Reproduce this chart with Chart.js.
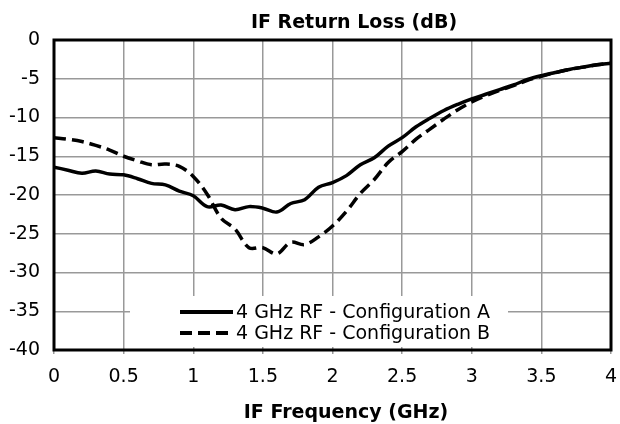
<!DOCTYPE html>
<html>
<head>
<meta charset="utf-8">
<script src="https://cdn.jsdelivr.net/npm/chart.js@4"></script>
<style>
  html, body { margin: 0; padding: 0; background: #fff; }
  #wrap { width: 620px; height: 424px; }
</style>
</head>
<body>
<div id="wrap"><canvas id="rlChart" width="620" height="424"></canvas></div>
<script>
// IF frequency grid (GHz) and return loss (dB)
const freqGHz = [0, 0.1, 0.2, 0.3, 0.4, 0.5, 0.6, 0.7, 0.8, 0.9,
                 1.0, 1.1, 1.2, 1.3, 1.4, 1.5, 1.6, 1.7, 1.8, 1.9,
                 2.0, 2.1, 2.2, 2.3, 2.4, 2.5, 2.6, 2.7, 2.8, 2.9,
                 3.0, 3.1, 3.2, 3.3, 3.4, 3.5, 3.6, 3.7, 3.8, 3.9, 4.0];

const configA = [-16.4, -16.8, -17.2, -16.9, -17.3, -17.4, -17.9, -18.5, -18.7, -19.5,
                 -20.1, -21.5, -21.3, -21.9, -21.5, -21.7, -22.2, -21.1, -20.6, -19.0,
                 -18.4, -17.5, -16.1, -15.2, -13.7, -12.6, -11.2, -10.1, -9.1, -8.3,
                 -7.6, -7.0, -6.4, -5.8, -5.1, -4.6, -4.2, -3.8, -3.5, -3.2, -3.0];

const configB = [-12.6, -12.8, -13.1, -13.6, -14.2, -15.0, -15.6, -16.1, -16.0, -16.3,
                 -17.6, -19.9, -23.0, -24.4, -26.8, -26.8, -27.6, -26.1, -26.4, -25.4,
                 -24.0, -22.1, -19.8, -18.0, -15.8, -14.4, -12.8, -11.5, -10.2, -9.0,
                 -8.0, -7.2, -6.5, -5.9, -5.2, -4.7, -4.2, -3.8, -3.5, -3.2, -3.0];

const seriesLabels = ['4 GHz RF - Configuration A', '4 GHz RF - Configuration B'];
const chartTitle = 'IF Return Loss (dB)';
const xTitle = 'IF Frequency (GHz)';

const FONT = 'DejaVu Sans';

function toPoints(values) {
    return freqGHz.map((f, i) => ({ x: f, y: values[i] }));
}

// Excel-like frame, titles and in-plot legend
const decorations = {
    id: 'decorations',
    afterDatasetsDraw(chart) {
        const ctx = chart.ctx;
        const ds = chart.data.datasets;
        ctx.save();
        ctx.fillStyle = '#fff';
        ctx.fillRect(130, 296, 378, 51);
        ctx.font = '19px "' + FONT + '"';
        ctx.textBaseline = 'middle';
        ctx.fillStyle = '#000';
        [312, 333].forEach((y, i) => {
            ctx.beginPath();
            ctx.lineWidth = 4;
            ctx.strokeStyle = '#000';
            ctx.setLineDash(ds[i].borderDash || []);
            ctx.moveTo(180, y);
            ctx.lineTo(233, y);
            ctx.stroke();
            ctx.fillText(ds[i].label, 236, y + 1);
        });
        ctx.restore();
    },
    afterDraw(chart) {
        const ctx = chart.ctx;
        const a = chart.chartArea;
        ctx.save();
        ctx.lineWidth = 3;
        ctx.strokeStyle = '#000';
        ctx.strokeRect(a.left, a.top, a.right - a.left, a.bottom - a.top);
        ctx.fillStyle = '#000';
        ctx.textAlign = 'center';
        ctx.textBaseline = 'alphabetic';
        ctx.font = 'bold 19px "' + FONT + '"';
        ctx.fillText(chartTitle, 354, 28);
        ctx.fillText(xTitle, 346, 418);
        ctx.restore();
    }
};

const ctx = document.getElementById('rlChart').getContext('2d');
new Chart(ctx, {
    type: 'line',
    data: {
        datasets: [
            {
                label: seriesLabels[0],
                data: toPoints(configA),
                borderColor: '#000',
                borderWidth: 3.5,
                pointRadius: 0,
                tension: 0.35,
                fill: false
            },
            {
                label: seriesLabels[1],
                data: toPoints(configB),
                borderColor: '#000',
                borderWidth: 3.5,
                borderDash: [12, 6],
                pointRadius: 0,
                tension: 0.35,
                fill: false
            }
        ]
    },
    options: {
        responsive: false,
        animation: false,
        layout: { padding: { top: 40, right: 9, left: 0, bottom: 0 } },
        plugins: {
            legend: { display: false },
            title: { display: false },
            tooltip: { enabled: false }
        },
        scales: {
            x: {
                type: 'linear',
                min: 0,
                max: 4,
                border: { display: false },
                grid: { color: '#999', lineWidth: 1.5, tickLength: 4 },
                ticks: {
                    stepSize: 0.5,
                    padding: 12,
                    color: '#000',
                    maxRotation: 0,
                    font: { family: FONT, size: 19 },
                    callback: v => String(v)
                },
                afterFit: s => { s.height = 74; s.paddingRight = 0; s.paddingLeft = 0; }
            },
            y: {
                min: -40,
                max: 0,
                border: { display: false },
                grid: { color: '#999', lineWidth: 1.5, drawTicks: false },
                ticks: {
                    stepSize: 5,
                    padding: 14,
                    color: '#000',
                    font: { family: FONT, size: 19 },
                    callback: v => String(v)
                },
                afterFit: s => { s.width = 54; s.paddingTop = 0; s.paddingBottom = 0; }
            }
        }
    },
    plugins: [decorations]
});
</script>
</body>
</html>
